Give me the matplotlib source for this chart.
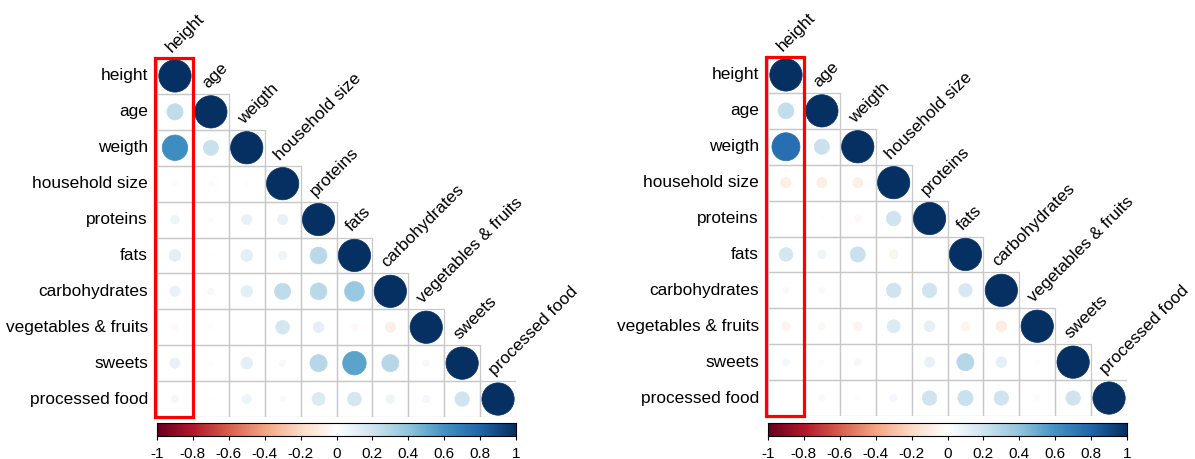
import numpy as np
import matplotlib.pyplot as plt
from matplotlib.colors import LinearSegmentedColormap, Normalize
from matplotlib.patches import Circle, Rectangle

plt.rcParams['font.family'] = ['Liberation Sans', 'DejaVu Sans']

variables = ['height', 'age', 'weigth', 'household size', 'proteins', 'fats',
             'carbohydrates', 'vegetables & fruits', 'sweets', 'processed food']

# lower triangle of each correlation matrix, row by row (diagonal included)
corr_left = [
    [1.00],
    [0.25, 1.00],
    [0.62, 0.22, 1.00],
    [-0.03, -0.03, -0.02, 1.00],
    [0.07, 0.02, 0.10, 0.10, 1.00],
    [0.13, -0.01, 0.13, 0.07, 0.27, 1.00],
    [0.10, 0.04, 0.13, 0.25, 0.27, 0.37, 1.00],
    [-0.04, -0.02, 0.00, 0.18, 0.11, -0.04, -0.10, 1.00],
    [0.10, 0.01, 0.13, 0.04, 0.28, 0.53, 0.28, 0.04, 1.00],
    [0.05, 0.01, 0.08, 0.03, 0.16, 0.18, 0.07, 0.05, 0.20, 1.00],
]
corr_right = [
    [1.00],
    [0.24, 1.00],
    [0.75, 0.22, 1.00],
    [-0.10, -0.10, -0.10, 1.00],
    [0.00, 0.01, -0.04, 0.20, 1.00],
    [0.18, 0.07, 0.22, -0.07, -0.01, 1.00],
    [0.03, 0.03, 0.00, 0.20, 0.20, 0.17, 1.00],
    [-0.07, -0.05, -0.07, 0.16, 0.11, -0.07, -0.11, 1.00],
    [0.05, 0.02, 0.05, 0.00, 0.10, 0.28, 0.11, 0.01, 1.00],
    [0.00, 0.03, 0.02, 0.05, 0.20, 0.22, 0.20, -0.03, 0.20, 1.00],
]

cbar_ticks = [-1, -0.8, -0.6, -0.4, -0.2, 0, 0.2, 0.4, 0.6, 0.8, 1]
cbar_labels = ['-1', '-0.8', '-0.6', '-0.4', '-0.2', '0', '0.2', '0.4', '0.6', '0.8', '1']

rdbu = ['#67001F', '#B2182B', '#D6604D', '#F4A582', '#FDDBC7', '#FFFFFF',
        '#D1E5F0', '#92C5DE', '#4393C3', '#2166AC', '#053061']
cmap = LinearSegmentedColormap.from_list('rdbu', rdbu, N=200)
norm = Normalize(-1, 1)

W, H = 1195, 459
fig = plt.figure(figsize=(W / 100, H / 100), dpi=100)


def px_axes(x0, y0, x1, y1):
    # axes placed by pixel box (top-left origin)
    return fig.add_axes([x0 / W, (H - y1) / H, (x1 - x0) / W, (y1 - y0) / H])


def corrplot(ax, corr):
    n = len(variables)
    ax.set_xlim(0, n)
    ax.set_ylim(n, 0)
    ax.axis('off')
    for i, row in enumerate(corr):
        for j, r in enumerate(row):
            ax.add_patch(Rectangle((j, i), 1, 1, fill=False, ec='#c8c8c8', lw=0.9))
            c = cmap(norm(r))
            ax.add_patch(Circle((j + 0.5, i + 0.5), 0.45 * np.sqrt(abs(r)),
                                fc=c, ec=c, lw=0.5))
    for i, name in enumerate(variables):
        ax.text(-0.25, i + 0.5, name, ha='right', va='center', fontsize=12.4)
        ax.text(i + 0.42, i - 0.14, name, ha='left', va='baseline', fontsize=12.4,
                rotation=45, rotation_mode='anchor')
    # highlight the height column
    ax.add_patch(Rectangle((-0.06, 0.0), 1.06, n, fill=False, ec='#ff0000',
                           lw=2.3, clip_on=False, zorder=5))


def colorbar(ax):
    grad = np.linspace(-1, 1, 200)[None, :]
    ax.imshow(grad, extent=[-1, 1, 0, 1], aspect='auto', cmap=cmap, norm=norm)
    ax.set_xlim(-1, 1)
    ax.set_ylim(0, 1)
    ax.set_yticks([])
    ax.set_xticks(cbar_ticks)
    ax.set_xticklabels(cbar_labels, fontsize=11)
    ax.tick_params(axis='x', length=3, width=0.8, pad=5)
    for s in ax.spines.values():
        s.set_linewidth(0.8)


ax1 = px_axes(157, 58, 516, 417)
corrplot(ax1, corr_left)
cb1 = px_axes(157, 423, 516, 436)
colorbar(cb1)

ax2 = px_axes(768, 57, 1127, 416)
corrplot(ax2, corr_right)
cb2 = px_axes(768, 423, 1127, 436)
colorbar(cb2)

fig.savefig('out.png', dpi=100)
